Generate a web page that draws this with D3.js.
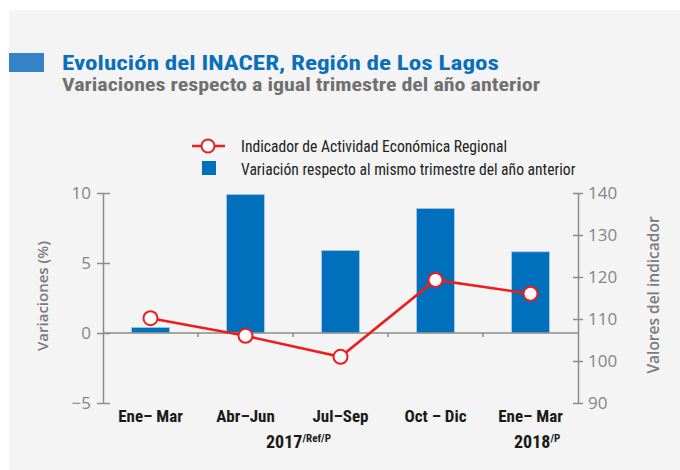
<!DOCTYPE html>
<html><head><meta charset="utf-8">
<script src="https://cdn.jsdelivr.net/npm/d3@7"></script>
<style>body{margin:0;background:#fff}svg{display:block}</style>
</head><body><svg id="c" width="680" height="470"></svg>
<script>
const categories = ["Ene– Mar", "Abr–Jun", "Jul–Sep", "Oct – Dic", "Ene– Mar"];
const variacion = [0.4, 9.9, 5.9, 8.9, 5.8];
const indicador = [110.2, 106.0, 101.0, 119.3, 116.0];
const leftTicks = [-5, 0, 5, 10];
const rightTicks = [90, 100, 110, 120, 130, 140];
const title = "Evolución del INACER, Región de Los Lagos";
const subtitle = "Variaciones respecto a igual trimestre del año anterior";
const legendLabels = ["Indicador de Actividad Económica Regional", "Variación respecto al mismo trimestre del año anterior"];

const svg = d3.select("#c");
const cond = "'Liberation Sans Narrow','Roboto Condensed','Roboto',sans-serif";
const open = "'Open Sans',sans-serif";
const axisCol = "#8c8c8c";

svg.append("rect").attr("x",9).attr("y",10).attr("width",671).attr("height",460).attr("fill","#f4f4f4");
svg.append("rect").attr("x",9).attr("y",53).attr("width",35).attr("height",19).attr("fill","#3583c6");
svg.append("text").attr("x",62).attr("y",69.5).text(title)
  .attr("font-family",cond).attr("font-weight","bold").attr("font-size",21).attr("fill","#0a6fba")
  .attr("textLength",437).attr("lengthAdjust","spacingAndGlyphs");
svg.append("text").attr("x",62).attr("y",90.5).text(subtitle)
  .attr("font-family",cond).attr("font-weight","bold").attr("font-size",18.5).attr("fill","#707070")
  .attr("textLength",478).attr("lengthAdjust","spacingAndGlyphs");

const xc = d3.scaleBand().domain(d3.range(categories.length)).range([103,578]);
const yL = d3.scaleLinear().domain([-5,10]).range([403,193]);
const yR = d3.scaleLinear().domain([90,140]).range([403,193]);

// bars
svg.append("g").selectAll("rect").data(variacion).join("rect")
  .attr("x",(d,i)=>xc(i)+xc.bandwidth()/2-19).attr("width",38)
  .attr("y",d=>yL(Math.max(0,d))).attr("height",d=>Math.abs(yL(d)-yL(0)))
  .attr("fill","#0070bd").attr("stroke","#a9cbe8").attr("stroke-width",0.8);

// zero line
const g0 = svg.append("g").attr("transform",`translate(0,${yL(0)})`);
g0.append("line").attr("x1",103).attr("x2",578).attr("stroke",axisCol).attr("stroke-width",1.5);
g0.selectAll("line.t").data(d3.range(1,categories.length)).join("line").attr("class","t")
  .attr("x1",i=>xc(i)).attr("x2",i=>xc(i)).attr("y1",0).attr("y2",4).attr("stroke",axisCol).attr("stroke-width",1.5);

// left axis
const la = svg.append("g").attr("transform","translate(103,0)")
  .call(d3.axisLeft(yL).tickValues(leftTicks).tickSizeInner(6).tickSizeOuter(0).tickPadding(8));
la.select(".domain").attr("stroke",axisCol).attr("stroke-width",1.5);
la.selectAll(".tick line").attr("stroke",axisCol).attr("stroke-width",1.5).attr("x1",7);
la.selectAll(".tick text").attr("font-family",open).attr("font-size",17).attr("fill","#858585").attr("x",-12);

// right axis
const ra = svg.append("g").attr("transform","translate(578,0)")
  .call(d3.axisRight(yR).tickValues(rightTicks).tickSizeInner(5).tickSizeOuter(0).tickPadding(8));
ra.select(".domain").attr("stroke",axisCol).attr("stroke-width",1.5);
ra.selectAll(".tick line").attr("stroke",axisCol).attr("stroke-width",1.5).attr("x1",-5);
ra.selectAll(".tick text").attr("font-family",open).attr("font-size",17).attr("fill","#858585").attr("x",10);

// axis titles
svg.append("text").attr("transform","translate(48,296) rotate(-90)").attr("text-anchor","middle")
  .text("Variaciones (%)").attr("font-family",open).attr("font-weight",600).attr("font-size",15).attr("fill","#7b7b7b");
svg.append("text").attr("transform","translate(659,295) rotate(-90)").attr("text-anchor","middle")
  .text("Valores del indicador").attr("font-family",open).attr("font-weight",600).attr("font-size",15.5).attr("fill","#7b7b7b");

// line
const cx = i => xc(i)+xc.bandwidth()/2;
svg.append("path").datum(indicador).attr("fill","none").attr("stroke","#ee1c1c").attr("stroke-width",2.5)
  .attr("d",d3.line().x((d,i)=>cx(i)).y(d=>yR(d)));
svg.append("g").selectAll("circle").data(indicador).join("circle")
  .attr("cx",(d,i)=>cx(i)).attr("cy",d=>yR(d)).attr("r",7)
  .attr("fill","#fff").attr("stroke","#ee1c1c").attr("stroke-width",2);

// category labels
svg.append("g").selectAll("text").data(categories).join("text")
  .attr("x",(d,i)=>cx(i)).attr("y",422).attr("text-anchor","middle").text(d=>d)
  .attr("font-family",cond).attr("font-weight","bold").attr("font-size",17).attr("fill","#1a1a1a");

// years
const yr = svg.append("g").attr("font-family",cond).attr("font-weight","bold").attr("fill","#1a1a1a");
const t1 = yr.append("text").attr("x",266).attr("y",448).attr("font-size",18);
t1.append("tspan").text("2017");
t1.append("tspan").text("/Ref/P").attr("font-size",11).attr("dy",-6);
const t2 = yr.append("text").attr("x",514).attr("y",448).attr("font-size",18);
t2.append("tspan").text("2018");
t2.append("tspan").text("/P").attr("font-size",11).attr("dy",-6);

// legend
const lg = svg.append("g");
lg.append("line").attr("x1",192).attr("x2",225).attr("y1",146).attr("y2",146).attr("stroke","#ee1c1c").attr("stroke-width",2.5);
lg.append("circle").attr("cx",208).attr("cy",146).attr("r",6.5).attr("fill","#fff").attr("stroke","#ee1c1c").attr("stroke-width",2);
lg.append("rect").attr("x",202).attr("y",161).attr("width",14).attr("height",14).attr("fill","#0070bd");
lg.selectAll("text").data(legendLabels).join("text")
  .attr("x",241).attr("y",(d,i)=>152+i*23).text(d=>d)
  .attr("font-family",cond).attr("font-size",15.6).attr("fill","#222");
</script></body></html>
